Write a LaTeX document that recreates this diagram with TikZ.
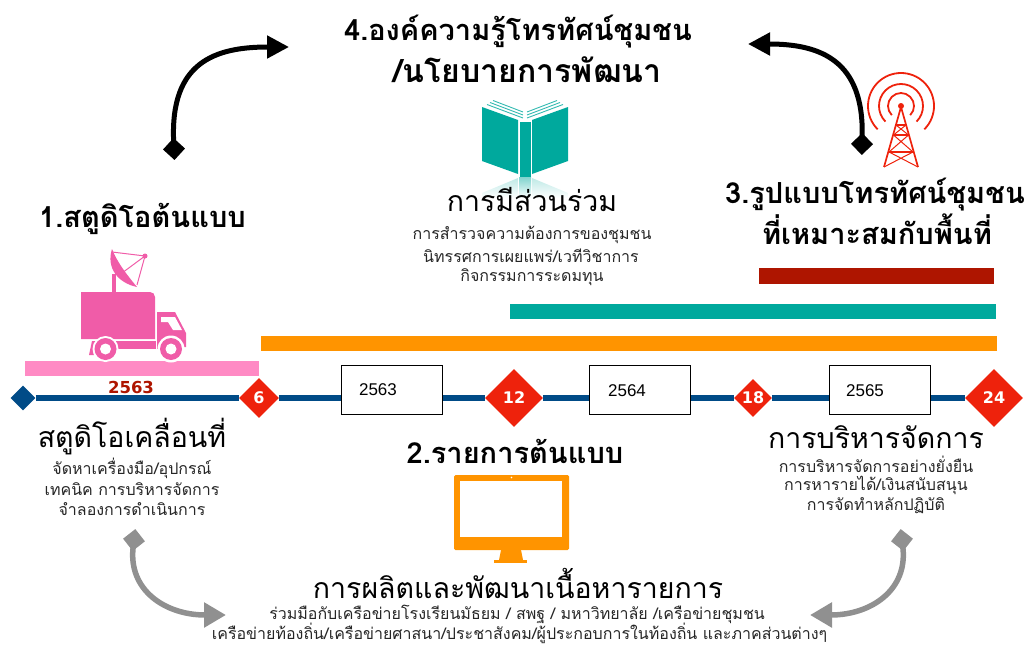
\documentclass[tikz,border=0pt]{standalone}
\usepackage{fontspec}
\setmainfont[Script=Thai]{Loma}
\newfontfamily\numfont{Liberation Sans}
\newfontfamily\dejavu{DejaVu Sans}
\usetikzlibrary{arrows.meta,shapes.geometric}
\definecolor{tlblue}{HTML}{004B87}
\definecolor{tlred}{HTML}{EE220C}
\definecolor{barpink}{HTML}{FF8AC4}
\definecolor{barorange}{HTML}{FF9400}
\definecolor{barteal}{HTML}{00A99D}
\definecolor{bardark}{HTML}{AE1500}
\definecolor{truckpink}{HTML}{F05CA8}
\definecolor{graya}{HTML}{909090}
\tikzset{
 head/.style={inner sep=0,font=\fontsize{29}{29}\selectfont\bfseries,text=black},
 sub/.style={inner sep=0,font=\fontsize{28.5}{28.5}\selectfont,text=black},
 body/.style={inner sep=0,font=\fontsize{16}{16}\selectfont,text=black!85},
 mile/.style={diamond,aspect=1,fill=tlred,inner sep=0,text=white,font=\dejavu\bfseries\fontsize{16}{16}\selectfont},
 yearbox/.style={draw=black,fill=white,line width=.8pt,minimum width=101pt,minimum height=49pt,inner sep=0},
 yeartxt/.style={inner sep=0,font=\numfont\fontsize{17}{17}\selectfont},
 bar/.style={inner sep=0,minimum height=15.5pt},
 bigarrow/.style={line width=5pt,black,{Diamond[length=22pt,width=22pt,sep=-11pt]}-{Triangle[length=22pt,width=22pt]}},
 grayarrow/.style={line width=5.5pt,graya,{Diamond[length=22pt,width=22pt,sep=-11pt]}-{Triangle[length=22pt,width=24pt]}},
}
\begin{document}
\begin{tikzpicture}[x=1pt,y=-1pt]
\useasboundingbox (0,0) rectangle (1026,645);
% bars
\node[bar,fill=barpink,minimum width=234pt,anchor=west] (bpink) at (25,368.5) {};
\node[bar,fill=barorange,minimum width=736pt,anchor=west] (borange) at (261,343.5) {};
\node[bar,fill=barteal,minimum width=486pt,anchor=west] (bteal) at (510,311.5) {};
\node[bar,fill=bardark,minimum width=235pt,anchor=west] (bdark) at (759,276) {};
% timeline
\node[diamond,aspect=1,fill=tlblue,minimum size=25pt,inner sep=0] (m0) at (23,398) {};
\node[mile,minimum size=40pt] (m6) at (259,398) {6};
\node[mile,minimum size=58pt] (m12) at (514,398) {12};
\node[mile,minimum size=38pt] (m18) at (753,398) {18};
\node[mile,minimum size=58pt] (m24) at (994,398) {24};
\draw[tlblue,line width=6.5pt] (m0) -- (m6);
\draw[tlblue,line width=6.5pt] (m6) -- (m12);
\draw[tlblue,line width=6.5pt] (m12) -- (m18);
\draw[tlblue,line width=6.5pt] (m18) -- (m24);
% year boxes
\node[yearbox] (y1) at (391.5,389.5) {};
\node[yearbox] (y2) at (640,389.5) {};
\node[yearbox] (y3) at (879.5,389.5) {};
\node[yeartxt] (y1t) at (378,390) {2563};
\node[yeartxt] (y2t) at (627,391) {2564};
\node[yeartxt] (y3t) at (865,391) {2565};
\node[inner sep=0,text=bardark,font=\dejavu\bfseries\fontsize{16.5}{16.5}\selectfont] (y0) at (131,387) {2563};
% truck
\fill[truckpink] (81,292) -- (150,292) arc (-90:0:5) -- (155,339) -- (81,339) -- cycle;
\fill[truckpink] (112,292) rectangle (116,274);
\fill[truckpink] (157,312) -- (175,312) -- (186,333) -- (186,347) -- (157,349) -- cycle;
\fill[white] (161,317) -- (175,317) -- (182,330) -- (173,330) -- (168,322) -- (161,322) -- cycle;
\fill[truckpink] (116,341) -- (156,341) -- (156,349) -- (116,349) -- cycle;
\fill[truckpink] (92,341) -- (97,341) -- (94,355) -- (89,355) -- cycle;
\fill[white] (105.5,349) circle (13);
\fill[truckpink] (105.5,349) circle (11);
\fill[white] (105.5,349) circle (5.5);
\fill[white] (171,349) circle (13.5);
\fill[truckpink] (171,349) circle (11);
\fill[white] (171,349) circle (5.5);
\fill[truckpink] (112,249) .. controls (106,268) and (118,283) .. (137,287) .. controls (127,275) and (117,262) .. cycle;
\draw[truckpink,line width=1pt] (112,252) -- (145,256) -- (137,285) (145,256) -- (122,273);
\fill[truckpink] (145,256) circle (2.5);
% book
\shade[top color=barteal!50,bottom color=white] (519,177) rectangle (531,198);
\shade[top color=barteal!25,bottom color=white] (518,178) -- (482,193) -- (482,198) -- (518,198) -- cycle;
\shade[top color=barteal!25,bottom color=white] (532,178) -- (568,193) -- (568,198) -- (532,198) -- cycle;
\fill[barteal] (482,107) -- (518,120) -- (518,174) -- (482,161) -- cycle;
\fill[barteal] (568,107) -- (532,120) -- (532,174) -- (568,161) -- cycle;
\fill[barteal] (519.5,122) rectangle (530.5,177);
\draw[barteal!80,line width=.9pt] (487,104.5) -- (523,118) (490,102.5) -- (523,115) (493,100.5)--(523,112);
\draw[barteal!80,line width=.9pt] (563,104.5) -- (527,118) (560,102.5) -- (527,115) (557,100.5)--(527,112);
% monitor
\fill[barorange,rounded corners=1.5pt] (454,475) rectangle (569,550);
\fill[white] (460,481) rectangle (562,537);
\fill[white] (511.5,477.5) circle (.8);
\fill[barorange] (501,550) -- (521,550) -- (523,560) -- (499,560) -- cycle;
\fill[barorange] (494,560) rectangle (527,563);
% tower
\foreach \r in {13,22,33}{
 \draw[tlred,line width=1.8pt] ({901+\r*cos(135)},{106+\r*sin(135)}) arc (135:405:\r);
}
\fill[tlred] (901,106) circle (3);
\draw[tlred,line width=1.7pt] (901,107) -- (884,167) (901,107) -- (918,167);
\draw[tlred,line width=1.2pt] (896,125) -- (906,125) (893.5,135) -- (908.5,135) (889,152) -- (913,152);
\draw[tlred,line width=1pt] (896,125) -- (908.5,135) (906,125) -- (893.5,135) (893.5,135) -- (913,152) (908.5,135) -- (889,152) (889,152) -- (918,167) (913,152) -- (884,167);
% headings
\node[head] (h4a) at (518,32) {4.องค์ความรู้โทรทัศน์ชุมชน};
\node[head,font=\fontsize{32}{32}\selectfont\bfseries] (h4b) at (527.5,70) {/นโยบายการพัฒนา};
\node[sub] (part) at (532,200) {การมีส่วนร่วม};
\node[body] (p1) at (532,235) {การสำรวจความต้องการของชุมชน};
\node[body] (p2) at (531,256) {นิทรรศการเผยแพร่/เวทีวิชาการ};
\node[body] (p3) at (532,277) {กิจกรรมการระดมทุน};
\node[head] (h3a) at (875,195) {3.รูปแบบโทรทัศน์ชุมชน};
\node[head] (h3b) at (877,229) {ที่เหมาะสมกับพื้นที่};
\node[head] (h1) at (142.5,219) {1.สตูดิโอต้นแบบ};
\node[sub] (s1) at (132,437) {สตูดิโอเคลื่อนที่};
\node[body] (s1a) at (132,468) {จัดหาเครื่องมือ/อุปกรณ์};
\node[body] (s1b) at (132,489) {เทคนิค การบริหารจัดการ};
\node[body] (s1c) at (132,509) {จำลองการดำเนินการ};
\node[sub] (s3) at (876,437) {การบริหารจัดการ};
\node[body] (s3a) at (876,464) {การบริหารจัดการอย่างยั่งยืน};
\node[body] (s3b) at (876,485) {การหารายได้/เงินสนับสนุน};
\node[body] (s3c) at (876,506) {การจัดทำหลักปฏิบัติ};
\node[head] (h2) at (515,451) {2.รายการต้นแบบ};
\node[sub] (s2) at (518,583) {การผลิตและพัฒนาเนื้อหารายการ};
\node[body] (s2a) at (517,614) {ร่วมมือกับเครือข่ายโรงเรียนมัธยม / สพฐ / มหาวิทยาลัย /เครือข่ายชุมชน};
\node[body] (s2b) at (519.5,633) {เครือข่ายท้องถิ่น/เครือข่ายศาสนา/ประชาสังคม/ผู้ประกอบการในท้องถิ่น และภาคส่วนต่างๆ};
% arrows
\coordinate (a1s) at (174,149);
\coordinate (a1e) at (289,47);
\coordinate (a2s) at (862,144);
\coordinate (a2e) at (748,44);
\coordinate (a3s) at (134,540);
\coordinate (a3e) at (226,615);
\coordinate (a4s) at (902,540);
\coordinate (a4e) at (810,615);
\draw[bigarrow] (a1s) .. controls (170,62) and (215,47) .. (a1e);
\draw[bigarrow] (a2s) .. controls (864,60) and (820,44) .. (a2e);
\draw[grayarrow] (a3s) .. controls (128,590) and (165,615) .. (a3e);
\draw[grayarrow] (a4s) .. controls (908,590) and (871,615) .. (a4e);
\end{tikzpicture}
\end{document}
